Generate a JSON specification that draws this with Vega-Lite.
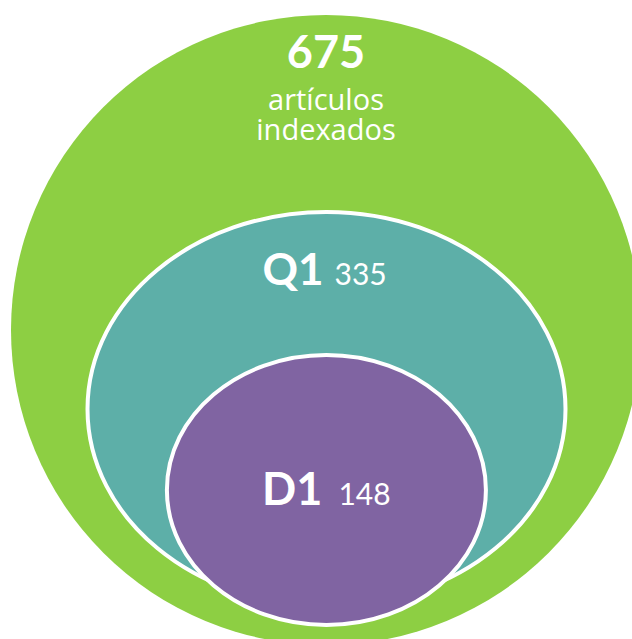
{
  "$schema": "https://vega.github.io/schema/vega-lite/v6.json",
  "width": 632,
  "height": 639,
  "padding": 0,
  "autosize": {"type": "none"},
  "background": "white",
  "config": {"view": {"stroke": null}, "axis": {"disable": true}},
  "data": {
    "values": [
      {"set": "Total", "label": "675", "value": 675, "note": "artículos\nindexados", "cx": 326, "cy": 330},
      {"set": "Q1", "label": "Q1", "value": 335, "note": "", "cx": 326.5, "cy": 409},
      {"set": "D1", "label": "D1", "value": 148, "note": "", "cx": 326.4, "cy": 490}
    ]
  },
  "encoding": {
    "x": {"field": "cx", "type": "quantitative", "scale": {"domain": [0, 632]}, "axis": null},
    "y": {"field": "cy", "type": "quantitative", "scale": {"domain": [0, 639], "reverse": true}, "axis": null}
  },
  "layer": [
    {
      "transform": [{"filter": "datum.set === 'Total'"}],
      "mark": {"type": "point", "shape": "circle", "filled": true, "size": 396900, "color": "#8DCF43", "opacity": 1, "strokeWidth": 0}
    },
    {
      "transform": [{"filter": "datum.set === 'Q1'"}],
      "mark": {"type": "point", "shape": "M -1 0 A 1 0.8243 0 1 1 1 0 A 1 0.8243 0 1 1 -1 0 Z", "filled": true, "size": 228484, "fill": "#5DAFA8", "stroke": "white", "strokeWidth": 4, "opacity": 1, "fillOpacity": 1, "strokeOpacity": 1}
    },
    {
      "transform": [{"filter": "datum.set === 'D1'"}],
      "mark": {"type": "point", "shape": "M -1 0 A 1 0.8464 0 1 1 1 0 A 1 0.8464 0 1 1 -1 0 Z", "filled": true, "size": 101761, "fill": "#8064A2", "stroke": "white", "strokeWidth": 4, "opacity": 1, "fillOpacity": 1, "strokeOpacity": 1}
    },
    {
      "transform": [{"filter": "datum.set === 'Total'"}],
      "mark": {"type": "text", "font": "Lato", "fontWeight": "bold", "fontSize": 45, "color": "white", "align": "center", "baseline": "alphabetic", "dy": -261.7},
      "encoding": {"text": {"field": "label"}}
    },
    {
      "transform": [{"filter": "datum.set === 'Total'"}],
      "mark": {"type": "text", "font": "Open Sans", "fontSize": 29, "color": "white", "align": "center", "baseline": "alphabetic", "dy": -220, "lineBreak": "\n", "lineHeight": 30},
      "encoding": {"text": {"field": "note"}}
    },
    {
      "transform": [{"filter": "datum.set === 'Q1'"}],
      "mark": {"type": "text", "font": "Lato", "fontWeight": "bold", "fontSize": 44, "color": "white", "align": "right", "baseline": "alphabetic", "dy": -124, "dx": -3},
      "encoding": {"text": {"field": "label"}}
    },
    {
      "transform": [{"filter": "datum.set === 'Q1'"}],
      "mark": {"type": "text", "font": "Lato", "fontSize": 30, "color": "white", "align": "left", "baseline": "alphabetic", "dy": -124, "dx": 8},
      "encoding": {"text": {"field": "value", "type": "quantitative", "format": "d"}}
    },
    {
      "transform": [{"filter": "datum.set === 'D1'"}],
      "mark": {"type": "text", "font": "Lato", "fontWeight": "bold", "fontSize": 45, "color": "white", "align": "right", "baseline": "alphabetic", "dy": 15, "dx": -4},
      "encoding": {"text": {"field": "label"}}
    },
    {
      "transform": [{"filter": "datum.set === 'D1'"}],
      "mark": {"type": "text", "font": "Lato", "fontSize": 30, "color": "white", "align": "left", "baseline": "alphabetic", "dy": 15, "dx": 12},
      "encoding": {"text": {"field": "value", "type": "quantitative", "format": "d"}}
    }
  ]
}
